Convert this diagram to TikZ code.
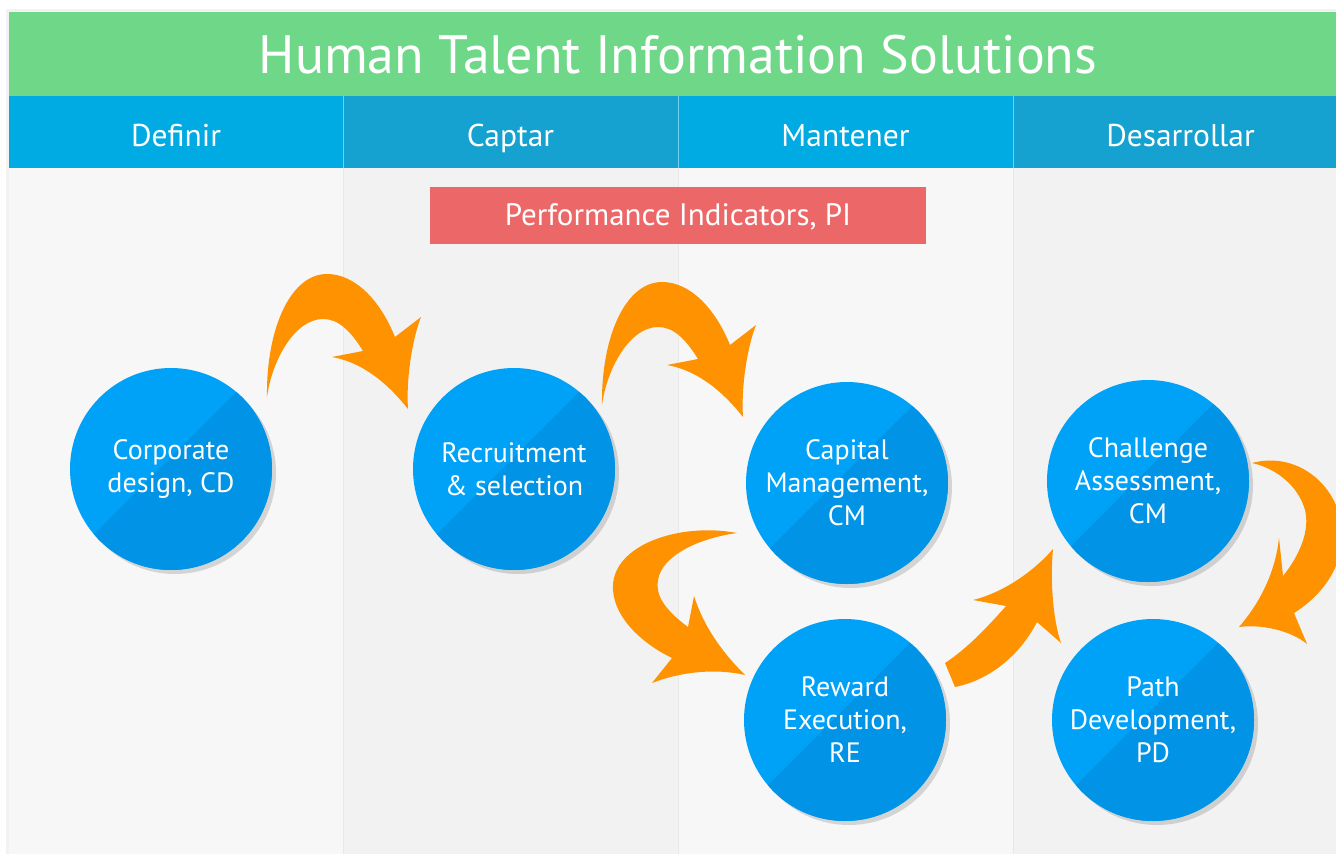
\documentclass[tikz,border=0pt]{standalone}
\usepackage{fontspec}
\setmainfont{PT Sans}
\usetikzlibrary{shadows}
\definecolor{titlegreen}{HTML}{6ED888}
\definecolor{headA}{HTML}{00ABE3}
\definecolor{headB}{HTML}{15A2D0}
\definecolor{colA}{HTML}{F7F7F7}
\definecolor{colB}{HTML}{F2F2F2}
\definecolor{pired}{HTML}{EC6868}
\definecolor{bublight}{HTML}{00A2F8}
\definecolor{bubdark}{HTML}{0093E6}
\definecolor{arroworange}{HTML}{FF9200}
\tikzset{
  bubble/.style={circle, minimum size=202pt, inner sep=0pt, fill=bublight, text=white,
    align=center, font=\fontsize{28}{33}\selectfont,
    drop shadow={shadow xshift=4pt, shadow yshift=-4pt, opacity=0.14, fill=black},
    path picture={\fill[bubdark] ([xshift=-6pt,yshift=6pt]path picture bounding box.south west)
      -- ([xshift=-6pt,yshift=6pt]path picture bounding box.north east)
      -- ([xshift=30pt,yshift=-30pt]path picture bounding box.south east) -- cycle;}},
  headtext/.style={text=white, anchor=base, inner sep=0pt, font=\fontsize{31.5}{33}\selectfont},
  flow/.style={fill=arroworange}
}
\newcommand\hookarrow{(267,397) .. controls (266,330) and (290,274) .. (327,274)
  .. controls (355,274) and (380,300) .. (395,337) -- (421,317)
  .. controls (412,340) and (406,380) .. (408,409)
  .. controls (385,380) and (360,362) .. (332,357) -- (363,351)
  .. controls (350,330) and (338,319) .. (323,319)
  .. controls (295,319) and (272,360) .. (267,397) -- cycle}
\begin{document}
\begin{tikzpicture}[x=1pt,y=-1pt]
\useasboundingbox (0,0) rectangle (1336,854);
\clip (0,0) rectangle (1336,854);
\fill[white] (0,0) rectangle (1336,854);
\fill[black!5] (6,9) rectangle (1340,860);
% columns
\fill[colA] (9,168) rectangle (343,854);
\fill[colB] (343,168) rectangle (678,854);
\fill[colA] (678,168) rectangle (1013,854);
\fill[colB] (1013,168) rectangle (1348,854);
\draw[black!9] (343,168) -- (343,854) (678,168) -- (678,854) (1013,168) -- (1013,854);
% title
\fill[titlegreen] (9,12) rectangle (1348,96);
\node[text=white, anchor=base, inner sep=0pt, font=\fontsize{54}{58}\selectfont] (title) at (678,73) {Human Talent Information Solutions};
% headers
\fill[headA] (9,96) rectangle (343,168);
\fill[headB] (343,96) rectangle (678,168);
\fill[headA] (678,96) rectangle (1013,168);
\fill[headB] (1013,96) rectangle (1348,168);
\draw[white, opacity=0.45] (343,96) -- (343,168) (678,96) -- (678,168) (1013,96) -- (1013,168);
\node[headtext] (h1) at (176,146) {Definir};
\node[headtext] (h2) at (510.5,146) {Captar};
\node[headtext] (h3) at (845.5,146) {Mantener};
\node[headtext] (h4) at (1180.5,146) {Desarrollar};
% PI box
\fill[pired] (430,187) rectangle (926,244);
\node[text=white, anchor=base, inner sep=0pt, font=\fontsize{31}{33}\selectfont] (pi) at (678,225) {Performance Indicators, PI};
% arrows
\fill[flow] \hookarrow;
\fill[flow, shift={(335,8)}] \hookarrow;
\fill[flow] (737,533) .. controls (680,522) and (610,545) .. (613,590)
  .. controls (615,620) and (645,645) .. (672,658) -- (652,683)
  .. controls (680,672) and (715,668) .. (745,675)
  .. controls (725,655) and (705,630) .. (694,596) -- (688,627)
  .. controls (665,610) and (655,595) .. (658,580)
  .. controls (662,555) and (700,538) .. (737,533) -- cycle;
\fill[flow] (945,663) -- (955,687) .. controls (990,680) and (1020,655) .. (1037,622)
  -- (1061,643) .. controls (1053,620) and (1050,580) .. (1053,549)
  .. controls (1035,570) and (1005,592) .. (973,600) -- (1006,606)
  .. controls (985,630) and (965,650) .. (945,663) -- cycle;
\fill[flow] (1252,463) .. controls (1300,450) and (1345,490) .. (1342,540)
  .. controls (1340,575) and (1315,600) .. (1294,613) -- (1307,644)
  .. controls (1290,630) and (1260,624) .. (1239,627)
  .. controls (1258,605) and (1275,575) .. (1279,538) -- (1283,576)
  .. controls (1300,555) and (1310,530) .. (1305,510)
  .. controls (1298,485) and (1275,468) .. (1252,463) -- cycle;
% bubbles
\node[bubble] (cd) at (171,469) {Corporate\\design, CD};
\node[bubble] (rs) at (514,469) {Recruitment\\\& selection};
\node[bubble] (cm) at (847,483) {Capital\\Management,\\CM};
\node[bubble] (re) at (845,720) {Reward\\Execution,\\RE};
\node[bubble] (ca) at (1148,481) {Challenge\\Assessment,\\CM};
\node[bubble] (pd) at (1153,720) {Path\\Development,\\PD};
\end{tikzpicture}
\end{document}
